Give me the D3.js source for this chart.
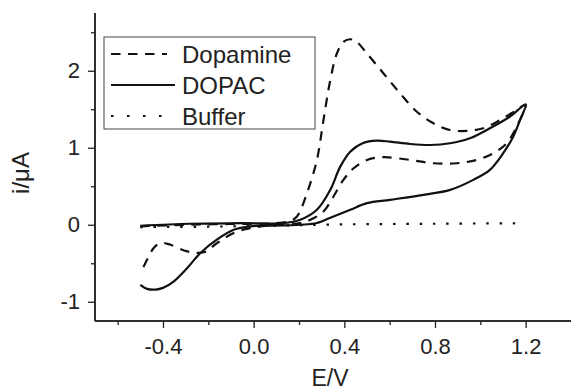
<!DOCTYPE html>
<html>
<head>
<meta charset="utf-8">
<script src="https://cdn.jsdelivr.net/npm/d3@7"></script>
<style>
  body { margin: 0; background: #fff; }
  svg text { font-family: "Liberation Sans", Arial, sans-serif; fill: #222; }
</style>
</head>
<body>
<div id="chart"></div>
<script>
// Daten: Potential (V) und Strom (µA)
const dopamineE = [-0.5, -0.3, -0.1, 0.1, 0.16, 0.191, 0.235, 0.279, 0.308, 0.338, 0.367, 0.396, 0.426, 0.455, 0.5, 0.573, 0.646, 0.72, 0.793, 0.866, 0.94, 1.013, 1.087, 1.16, 1.2,
  1.16, 1.116, 1.057, 0.984, 0.896, 0.793, 0.69, 0.573, 0.5, 0.441, 0.396, 0.352, 0.308, 0.25, 0.206, 0.103, -0.015, -0.088, -0.161, -0.22, -0.293, -0.367, -0.411, -0.44, -0.47, -0.5];
const dopamineI = [-0.02, 0.0, 0.01, 0.02, 0.05, 0.108, 0.41, 0.842, 1.36, 1.878, 2.224, 2.374, 2.409, 2.374, 2.224, 1.965, 1.706, 1.468, 1.317, 1.231, 1.218, 1.253, 1.36, 1.49, 1.56,
  1.273, 1.058, 0.929, 0.842, 0.799, 0.799, 0.842, 0.877, 0.842, 0.734, 0.583, 0.367, 0.172, 0.065, 0.022, 0.0, -0.043, -0.108, -0.237, -0.358, -0.346, -0.26, -0.237, -0.3, -0.45, -0.64];

const dopacE = [-0.5, -0.28, -0.06, 0.13, 0.206, 0.279, 0.338, 0.382, 0.426, 0.483, 0.544, 0.602, 0.69, 0.778, 0.866, 0.954, 1.042, 1.13, 1.2,
  1.175, 1.145, 1.101, 1.042, 0.969, 0.867, 0.749, 0.602, 0.5, 0.426, 0.352, 0.279, 0.206, 0.132, -0.015, -0.088, -0.161, -0.235, -0.293, -0.352, -0.4, -0.433, -0.47, -0.5];
const dopacI = [-0.013, 0.013, 0.02, 0.022, 0.065, 0.194, 0.453, 0.755, 0.949, 1.062, 1.092, 1.079, 1.049, 1.036, 1.058, 1.123, 1.253, 1.403, 1.56,
  1.36, 1.144, 0.929, 0.712, 0.583, 0.453, 0.389, 0.324, 0.281, 0.194, 0.108, 0.022, 0.0, -0.01, -0.02, -0.065, -0.19, -0.367, -0.561, -0.734, -0.82, -0.842, -0.833, -0.78];

const bufferE = [-0.5, -0.2, 0.1, 0.4, 0.8, 1.2];
const bufferI = [-0.03, -0.025, -0.01, 0.005, 0.013, 0.02];

const xMajor = [-0.4, 0.0, 0.4, 0.8, 1.2];
const xMinor = [-0.6, -0.2, 0.2, 0.6, 1.0];
const yMajor = [-1, 0, 1, 2];
const yMinor = [-0.5, 0.5, 1.5, 2.5];

const seriesNames = ["Dopamine", "DOPAC", "Buffer"];

const W = 571, H = 391;
const svg = d3.select("#chart").append("svg")
    .attr("width", W)
    .attr("height", H);

const x = d3.scaleLinear().domain([-0.7, 1.4]).range([95, 571]);
const y = d3.scaleLinear().domain([-1.25, 2.75]).range([321, 13]);

const line = d3.line()
    .x(d => x(d[0]))
    .y(d => y(d[1]))
    .curve(d3.curveCatmullRom.alpha(0.5));

const zip = (a, b) => a.map((v, i) => [v, b[i]]);

// Kurven
const series = [
    { pts: zip(dopamineE, dopamineI), dash: "9.5,7.5" },
    { pts: zip(dopacE, dopacI), dash: null },
    { pts: zip(bufferE, bufferI), dash: "2.5,10.8" }
];

series.forEach(s => {
    svg.append("path")
        .datum(s.pts)
        .attr("d", line)
        .attr("fill", "none")
        .attr("stroke", "#111")
        .attr("stroke-width", 2.2)
        .attr("stroke-dasharray", s.dash);
});

// Achsen (normales Minuszeichen wie im Original)
const fmtX = d => d3.format(".1f")(d).replace("−", "-");
const fmtY = d => d3.format("d")(d).replace("−", "-");

const xAxis = svg.append("g").attr("transform", `translate(0,${y.range()[0]})`);
xAxis.call(d3.axisBottom(x).tickValues(xMajor).tickSize(7).tickPadding(10).tickFormat(fmtX));
xAxis.append("g").call(d3.axisBottom(x).tickValues(xMinor).tickSize(4).tickFormat(""));

const yAxis = svg.append("g").attr("transform", `translate(${x.range()[0]},0)`);
yAxis.call(d3.axisLeft(y).tickValues(yMajor).tickSize(7).tickPadding(8).tickFormat(fmtY));
yAxis.append("g").call(d3.axisLeft(y).tickValues(yMinor).tickSize(4).tickFormat(""));

svg.selectAll(".domain").attr("stroke", "#222").attr("stroke-width", 1.5);
svg.selectAll(".tick line").attr("stroke", "#222").attr("stroke-width", 1.3);
svg.selectAll(".tick text")
    .style("font-size", "22px")
    .style("font-family", "'Liberation Sans', Arial, sans-serif")
    .attr("fill", "#222");
xAxis.selectAll(".domain").attr("d", `M${x.range()[0]},0H${x.range()[1]}`);
yAxis.selectAll(".domain").attr("d", `M0,${y.range()[1]}V${y.range()[0]}`);

// Achsentitel
svg.append("text")
    .attr("x", 330).attr("y", 386)
    .attr("text-anchor", "middle")
    .style("font-size", "23px")
    .text("E/V");

svg.append("text")
    .attr("transform", "translate(29,173) rotate(-90)")
    .attr("text-anchor", "middle")
    .style("font-size", "24px")
    .text("i/μA");

// Legende
const legend = svg.append("g");
legend.append("rect")
    .attr("x", 104).attr("y", 37)
    .attr("width", 211).attr("height", 92)
    .attr("fill", "#fff")
    .attr("stroke", "#444")
    .attr("stroke-width", 1);

const legDash = ["9.5,7.5", null, "2.5,13.5"];
const legEnd = [167, 175, 165];
seriesNames.forEach((name, i) => {
    const cy = 54 + i * 31;
    legend.append("line")
        .attr("x1", 111).attr("x2", legEnd[i])
        .attr("y1", cy).attr("y2", cy)
        .attr("stroke", "#111")
        .attr("stroke-width", 2.2)
        .attr("stroke-dasharray", legDash[i]);
    legend.append("text")
        .attr("x", 182).attr("y", cy + 8.5)
        .style("font-size", "24px")
        .text(name);
});
</script>
</body>
</html>
